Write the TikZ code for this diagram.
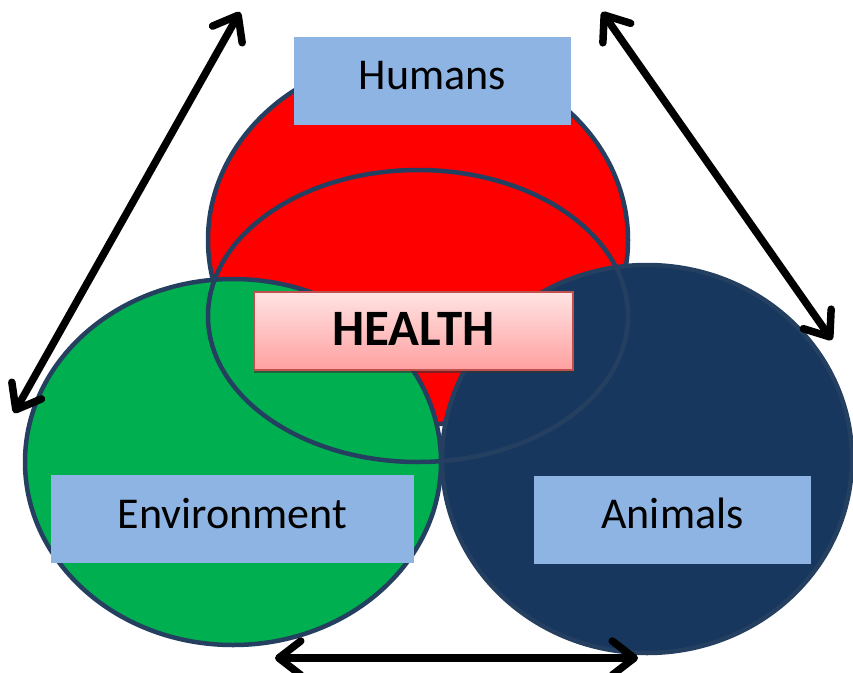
\documentclass[tikz,border=0pt]{standalone}
\usepackage{xcolor}
\usepackage{tikz}
\usepackage{fontspec}
\setmainfont{Carlito}
\usetikzlibrary{shapes.geometric, arrows.meta, positioning, shadows}
\definecolor{humanred}{HTML}{FF0000}
\definecolor{envgreen}{HTML}{00B050}
\definecolor{animalblue}{HTML}{17375E}
\definecolor{rimblue}{HTML}{243F60}
\definecolor{labelblue}{HTML}{8EB4E3}
\definecolor{healthtop}{HTML}{FFE3E3}
\definecolor{healthbot}{HTML}{FFA0A0}
\definecolor{healthrim}{HTML}{C0504D}

\tikzset{
  sphere/.style={ellipse, draw=rimblue, line width=4.5pt, inner sep=0pt},
  labelbox/.style={rectangle, fill=labelblue, inner sep=0pt, font=\fontsize{44}{48}\selectfont, text depth=12pt},
  linkarrow/.style={line width=7.5pt, line cap=round, {Straight Barb[length=22pt, width=34pt, line join=round, line cap=round]}-{Straight Barb[length=22pt, width=34pt, line join=round, line cap=round]}}
}

\begin{document}
\begin{tikzpicture}[x=1pt, y=-1pt]
  \useasboundingbox (0,0) rectangle (853,672);

  % The three spheres
  \node[sphere, fill=humanred, minimum width=420pt, minimum height=370pt] (humans) at (418, 240) {};
  \node[sphere, fill=envgreen, minimum width=416pt, minimum height=366pt] (environment) at (233, 462) {};
  \node[sphere, fill=animalblue, minimum width=410pt, minimum height=388pt] (animals) at (647, 459) {};

  % Shared health zone (outline only)
  \node[sphere, minimum width=420pt, minimum height=292pt] (overlap) at (418, 316) {};

  % Label boxes
  \foreach \name/\cx/\cy/\w/\txt in {
    humanlbl/432.5/81/277/Humans,
    envlbl/232.5/519/363/Environment,
    animallbl/672.5/519.5/277/Animals
  } {
    \node[labelbox, minimum width=\w pt, minimum height=88pt] (\name) at (\cx, \cy) {\txt};
  }

  % Centre box
  \node[rectangle, draw=healthrim, line width=1.5pt, top color=healthtop, bottom color=healthbot,
        drop shadow={shadow xshift=0pt, shadow yshift=-2.5pt, fill=black!80, opacity=0.6},
        minimum width=319pt, minimum height=78pt, inner sep=0pt, text depth=4pt,
        font=\fontsize{51}{54}\selectfont\bfseries] (health) at (413.5, 331) {HEALTH};

  % Arrow ends
  \coordinate (la1) at (14, 413);
  \coordinate (la2) at (240, 12);
  \coordinate (ra1) at (602, 12);
  \coordinate (ra2) at (832, 340);
  \coordinate (ba1) at (275, 658);
  \coordinate (ba2) at (638, 658);

  % Links between the spheres
  \draw[linkarrow] (la1) -- (la2);
  \draw[linkarrow] (ra1) -- (ra2);
  \draw[linkarrow] (ba1) -- (ba2);
\end{tikzpicture}
\end{document}
